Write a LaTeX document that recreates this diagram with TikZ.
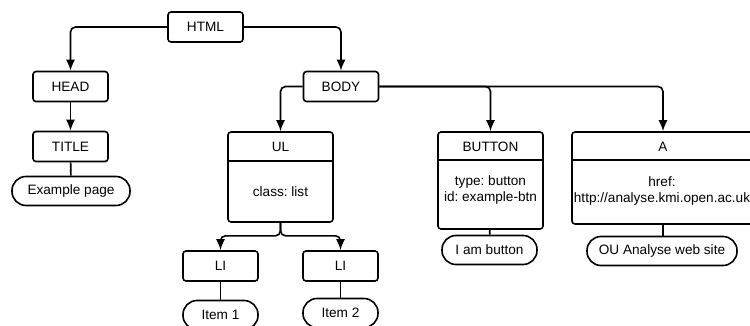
\documentclass[tikz,border=0pt]{standalone}
\usepackage{fontspec}
\setmainfont{Liberation Sans}
\usepackage{tikz}
\usetikzlibrary{arrows,arrows.meta}
\frenchspacing

\tikzset{
  tag/.style={draw, rectangle, rounded corners=3pt, line width=1.6pt, minimum width=75pt, minimum height=30pt, inner sep=0pt},
  elem/.style={draw, rectangle, rounded corners=3pt, line width=1.6pt, inner sep=0pt},
  leaf/.style={draw, rectangle, rounded corners=14pt, line width=1.6pt, minimum height=29pt, inner sep=0pt},
  link/.style={->, >={Latex[length=11pt,width=9pt]}, line width=1.6pt, rounded corners=5pt},
  stem/.style={line width=1.6pt}
}

\begin{document}
\begin{tikzpicture}[x=1pt, y=-1pt, every node/.style={font=\fontsize{13.6}{16}\selectfont}]
\useasboundingbox (0,0) rectangle (750,326);

% tree of tags
\node[tag] at (205.5,27) (html) {HTML};
\node[tag] at (70.5,86.5) (head) {HEAD};
\node[tag] at (70.5,146.5) (title) {TITLE};
\node[leaf, minimum width=118pt] at (71,191) (expage) {Example page};
\node[tag] at (341,86.5) (body) {BODY};

% elements with attributes
\node[elem, minimum width=105pt, minimum height=90pt] at (280.5,177) (ul) {};
\node at (280.5,147) (ulname) {UL};
\node at (280.5,192) (ulattr) {class: list};
\draw[stem] ([yshift=-30pt]ul.north west) -- ([yshift=-30pt]ul.north east);

\node[elem, minimum width=105pt, minimum height=97pt] at (490.5,180.5) (button) {};
\node at (490.5,146.5) (buttonname) {BUTTON};
\node[align=center] at (490.5,190) (buttonattr) {type: button\\id: example-btn};
\draw[stem] ([yshift=-29pt]button.north west) -- ([yshift=-29pt]button.north east);

\node[elem, minimum width=182pt, minimum height=92pt] at (663,178) (a) {};
\node at (663,146.5) (aname) {A};
\node[align=center] at (662,190.5) (aattr) {href:\\http://analyse.kmi.open.ac.uk};
\draw[stem] ([yshift=-29pt]a.north west) -- ([yshift=-29pt]a.north east);

\node[tag] at (220.5,266) (li1) {LI};
\node[tag] at (340.5,266) (li2) {LI};
\node[leaf, minimum width=75pt] at (220.5,315) (item1) {Item 1};
\node[leaf, minimum width=75pt] at (340.5,313) (item2) {Item 2};
\node[leaf, minimum width=95pt] at (489.5,250) (ibutton) {I am button};
\node[leaf, minimum width=150pt] at (662,251) (ousite) {OU Analyse web site};

% connectors
\draw[link] (html.west) -| (head.north);
\draw[link] (html.east) -| (body.north);
\draw[link] (head) -- (title);
\draw[stem] (title) -- (expage);
\draw[link] (body.west) -| (ul.north);
\draw[link] (body.east) -| (button.north);
\draw[link] (body.east) -| (a.north);
\draw[link] (ul.south) -- ++(0,13) -| (li1.north);
\draw[link] (ul.south) -- ++(0,13) -| (li2.north);
\draw[stem] (li1) -- (item1);
\draw[stem] (li2) -- (item2);
\draw[stem] (button) -- (ibutton);
\draw[stem] (a.south) -- (a.south |- ousite.north);

\end{tikzpicture}
\end{document}
